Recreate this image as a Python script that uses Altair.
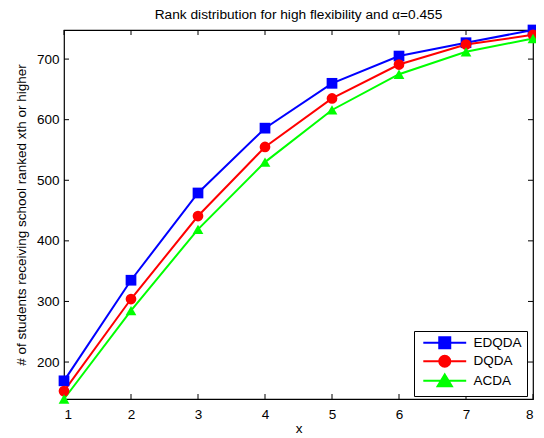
import altair as alt
import pandas as pd

x_vals = [1, 2, 3, 4, 5, 6, 7, 8]
edqda = [169, 335, 479, 586, 660, 705, 727, 748]
dqda = [152, 304, 441, 555, 635, 691, 724, 740]
acda = [139, 285, 419, 530, 616, 675, 712, 734]
series_names = ["EDQDA", "DQDA", "ACDA"]
series_colors = ["#0000ff", "#ff0000", "#00ff00"]
marker_shapes = ["square", "circle", "triangle-up"]
legend_paths = [
    "M-3.9,0H3.9M-1,-1H1V1H-1Z",
    "M-3.9,0H3.9M1,0A1,1 0 1,1 -1,0A1,1 0 1,1 1,0Z",
    "M-3.9,0H3.9M0,-1.15L1.3,1.0H-1.3Z",
]
x_ticks = [1, 2, 3, 4, 5, 6, 7, 8]
y_ticks = [200, 300, 400, 500, 600, 700]

rows = []
for name, vals in zip(series_names, [edqda, dqda, acda]):
    for xv, yv in zip(x_vals, vals):
        rows.append({"x": xv, "y": yv, "series": name})
df = pd.DataFrame(rows)

W, H = 469, 369
FONT = "Liberation Sans"

xs = alt.Scale(zero=False, nice=False)
ys = alt.Scale(zero=False, nice=False)


def cscale():
    return alt.Scale(domain=series_names, range=series_colors)


base = alt.Chart(df)

lines = base.mark_line(strokeWidth=2, clip=False).encode(
    x=alt.X("x:Q", scale=xs,
            axis=alt.Axis(values=x_ticks, format="d", title="x", grid=False,
                          ticks=False, domain=False, labelPadding=8,
                          labelFontSize=13.5, titleFontSize=13.5,
                          titleFontWeight="normal", titlePadding=1)),
    y=alt.Y("y:Q", scale=ys,
            axis=alt.Axis(values=y_ticks, format="d",
                          title="# of students receiving school ranked xth or higher",
                          grid=False, ticks=False, domain=False, labelPadding=5,
                          labelFontSize=13.5, titleFontSize=13.5,
                          titleFontWeight="normal", titlePadding=8)),
    color=alt.Color("series:N", scale=cscale(), legend=None),
    detail="series:N",
    order=alt.Order("x:Q"),
)

points = base.mark_point(filled=True, size=115, opacity=1, clip=False).encode(
    x="x:Q",
    y="y:Q",
    color=alt.Color("series:N", scale=cscale(), legend=None),
    shape=alt.Shape("series:N",
                    scale=alt.Scale(domain=series_names, range=marker_shapes),
                    legend=None),
)

leg = dict(title=None, orient="none", legendX=350, legendY=301,
           strokeColor="black", fillColor="white", padding=5,
           symbolSize=121, symbolStrokeWidth=2, labelFontSize=13.5,
           labelOffset=22, rowPadding=-1.5, symbolOffset=19)

legend_layer = base.transform_filter("false").mark_point(
    filled=False, strokeWidth=2, opacity=1
).encode(
    x="x:Q",
    y="y:Q",
    color=alt.Color("series:N", scale=cscale(), legend=alt.Legend(**leg)),
    fill=alt.Fill("series:N", scale=cscale(), legend=alt.Legend(**leg)),
    shape=alt.Shape("series:N",
                    scale=alt.Scale(domain=series_names, range=legend_paths),
                    legend=alt.Legend(**leg)),
)

tick_len = 5
xt = pd.DataFrame({"t": x_ticks})
yt = pd.DataFrame({"t": y_ticks})
bottom_ticks = alt.Chart(xt).mark_rule(color="black", strokeWidth=1).encode(
    x=alt.X("t:Q"), y=alt.value(H), y2=alt.value(H - tick_len))
top_ticks = alt.Chart(xt).mark_rule(color="black", strokeWidth=1).encode(
    x=alt.X("t:Q"), y=alt.value(0), y2=alt.value(tick_len))
left_ticks = alt.Chart(yt).mark_rule(color="black", strokeWidth=1).encode(
    y=alt.Y("t:Q"), x=alt.value(0), x2=alt.value(tick_len))
right_ticks = alt.Chart(yt).mark_rule(color="black", strokeWidth=1).encode(
    y=alt.Y("t:Q"), x=alt.value(W), x2=alt.value(W - tick_len))

chart = alt.layer(
    bottom_ticks, top_ticks, left_ticks, right_ticks, lines, points, legend_layer
).resolve_scale(
    shape="independent", color="independent", fill="independent"
).properties(
    width=W, height=H,
    autosize=alt.AutoSizeParams(type="none"),
    padding={"left": 56, "top": 22, "right": 3, "bottom": 38},
    title=alt.Title("Rank distribution for high flexibility and \u03b1=0.455",
                    fontSize=13.7, fontWeight="normal", font=FONT,
                    frame="group", offset=3, anchor="middle"),
).configure(font=FONT).configure_view(
    stroke="black", strokeWidth=1.2
).configure_axis(
    labelFont=FONT, titleFont=FONT, labelColor="black", titleColor="black"
).configure_legend(
    labelFont=FONT, labelColor="black"
)

chart.save("out.html", embed_options={"renderer": "svg", "actions": False})
